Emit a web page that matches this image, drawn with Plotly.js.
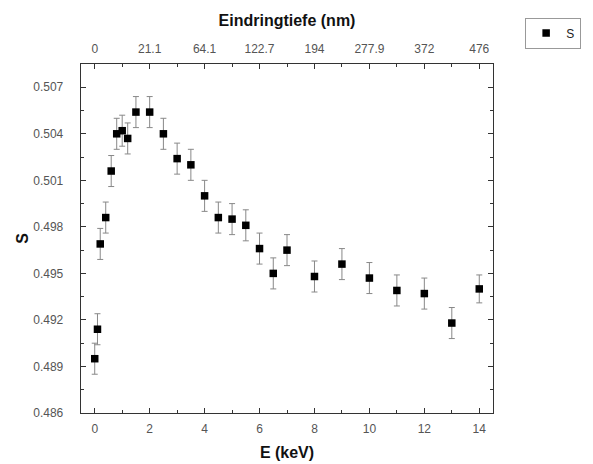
<!DOCTYPE html>
<html>
<head>
<meta charset="utf-8">
<script src="https://cdn.plot.ly/plotly-3.0.1.min.js"></script>
<style>
  html, body { margin: 0; padding: 0; background: #fff; }
  #chart { width: 593px; height: 464px; }
</style>
</head>
<body>
<div id="chart"></div>
<script>
// Beam energy (keV)
const energy = [0, 0.1, 0.2, 0.4, 0.6, 0.8, 1.0, 1.2, 1.5, 2, 2.5, 3, 3.5, 4, 4.5, 5, 5.5, 6, 6.5, 7, 8, 9, 10, 11, 12, 13, 14];
// S parameter
const sParam = [0.4895, 0.4914, 0.4969, 0.4986, 0.5016, 0.5040, 0.5042, 0.5037, 0.5054, 0.5054, 0.5040, 0.5024, 0.5020, 0.5000,
                0.4986, 0.4985, 0.4981, 0.4966, 0.4950, 0.4965, 0.4948, 0.4956, 0.4947, 0.4939, 0.4937, 0.4918, 0.4940];
// Uncertainty of S
const sErr = [0.001, 0.001, 0.001, 0.001, 0.001, 0.001, 0.001, 0.001, 0.001, 0.001, 0.001, 0.001, 0.001, 0.001,
              0.001, 0.001, 0.001, 0.001, 0.001, 0.001, 0.001, 0.001, 0.001, 0.001, 0.001, 0.001, 0.0009];
// Mean penetration depth at the energies of the top axis
const depthTickEnergy = [0, 2, 4, 6, 8, 10, 12, 14];
const depthTickText = ['0', '21.1', '64.1', '122.7', '194', '277.9', '372', '476'];

const FONT = 'Liberation Sans, Arial, sans-serif';
const tickFont = { family: FONT, size: 12, color: '#555' };
const titleFont = { family: FONT, size: 16, color: '#111' };

const traces = [
  {
    x: energy, y: sParam, name: 'S', type: 'scatter', mode: 'markers',
    marker: { symbol: 'square', size: 7.5, color: '#000' },
    error_y: { type: 'data', array: sErr, visible: true, color: '#888', thickness: 1, width: 3 },
    hoverinfo: 'x+y'
  },
  {
    // carries the depth axis on top
    x: energy, y: sParam, xaxis: 'x2', yaxis: 'y', type: 'scatter', mode: 'markers',
    marker: { opacity: 0 }, showlegend: false, hoverinfo: 'skip'
  }
];

const layout = {
  width: 593, height: 464,
  margin: { l: 81, r: 88, t: 64, b: 51 },
  paper_bgcolor: '#fff', plot_bgcolor: '#fff',
  showlegend: true,
  legend: {
    x: 1.078, xanchor: 'left', y: 1.133, yanchor: 'top',
    bordercolor: '#999', borderwidth: 1, bgcolor: '#fff',
    font: { family: FONT, size: 12, color: '#222' },
    itemwidth: 30
  },
  xaxis: {
    range: [-0.5, 14.5], dtick: 2, tick0: 0,
    ticks: 'inside', ticklen: 5, tickwidth: 1, tickcolor: '#333',
    minor: { ticks: 'inside', dtick: 1, ticklen: 3, tickcolor: '#333' },
    showline: true, linecolor: '#333', linewidth: 1.3, mirror: true,
    showgrid: false, zeroline: false,
    tickfont: tickFont, ticklabelstandoff: 4,
    title: { text: '<b>E (keV)</b>', font: titleFont, standoff: 12 }
  },
  xaxis2: {
    overlaying: 'x', side: 'top', anchor: 'y',
    range: [-0.5, 14.5],
    tickmode: 'array', tickvals: depthTickEnergy, ticktext: depthTickText,
    ticks: 'inside', ticklen: 5, tickwidth: 1, tickcolor: '#333',
    minor: { ticks: 'inside', tickvals: [1, 3, 5, 7, 9, 11, 13], ticklen: 3, tickcolor: '#333' },
    showline: false, showgrid: false, zeroline: false,
    tickfont: tickFont, ticklabelstandoff: 8,
    title: { text: '<b>Eindringtiefe (nm)</b>', font: titleFont, standoff: 10 }
  },
  yaxis: {
    range: [0.486, 0.5085], dtick: 0.003, tick0: 0.486, tickformat: '.3f',
    ticks: 'inside', ticklen: 5, tickwidth: 1, tickcolor: '#333',
    minor: { ticks: 'inside', dtick: 0.0015, ticklen: 3, tickcolor: '#333' },
    showline: true, linecolor: '#333', linewidth: 1.3, mirror: 'ticks',
    showgrid: false, zeroline: false,
    tickfont: tickFont, ticklabelstandoff: 14,
    title: { text: '<b>S</b>', font: titleFont, standoff: 0 }
  }
};

Plotly.newPlot('chart', traces, layout, { displayModeBar: false, staticPlot: true });
</script>
</body>
</html>
